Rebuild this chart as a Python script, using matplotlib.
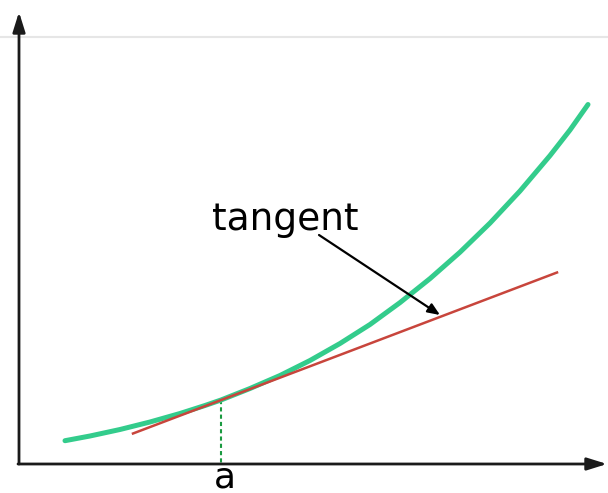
import matplotlib
matplotlib.use("Agg")
import matplotlib.pyplot as plt

# Canvas coordinates (pixels, y downward)
curve_x = [65, 90, 120, 150, 180, 205, 221, 250, 280, 310, 340, 370, 400, 430, 460, 490, 520, 550, 570, 588]
curve_y = [440.7, 436, 429.5, 422, 413.5, 405.5, 400, 388.5, 375.5, 360.5, 343.5, 324.5, 302.6, 278.6, 252.2, 223.1, 191, 155.6, 130, 104.5]

tangent_x = [133, 557]
tangent_y = [433.5, 272.5]

point_a_x = 221
point_a_y = 400
axis_origin = (19, 464)
x_axis_end = 607
y_axis_end = 12
grid_y = 37

label_text = "tangent"
label_pos = (285, 230)
label_arrow_start = (319, 235)
label_arrow_end = (440, 315)
tick_label = "a"

fig = plt.figure(figsize=(6.08, 4.93), dpi=100)
ax = fig.add_axes([0, 0, 1, 1])
ax.set_xlim(0, 608)
ax.set_ylim(493, 0)
ax.axis("off")

# faint top line
ax.plot([0, 608], [grid_y, grid_y], color="#e6e6e6", lw=1.5, zorder=1)

# axes with arrows
axis_style = dict(arrowstyle="-|>,head_length=0.8,head_width=0.25", mutation_scale=15,
                  lw=2, color="#1a1a1a", shrinkA=0, shrinkB=0)
ax.annotate("", xy=(axis_origin[0], y_axis_end), xytext=(axis_origin[0], axis_origin[1]),
            arrowprops=axis_style, zorder=3)
ax.annotate("", xy=(x_axis_end, axis_origin[1]), xytext=(axis_origin[0] - 1, axis_origin[1]),
            arrowprops=axis_style, zorder=3)

# dashed line at a
ax.plot([point_a_x, point_a_x], [point_a_y, axis_origin[1]], color="#1a9a40", lw=1.5,
        linestyle=(0, (2, 1.5)), zorder=2)

# curve and tangent
ax.plot(curve_x, curve_y, color="#33cc8c", lw=3.6, solid_capstyle="round", zorder=4)
ax.plot(tangent_x, tangent_y, color="#c8453c", lw=1.8, zorder=5)

# label and arrow
ax.text(label_pos[0], label_pos[1], label_text, fontsize=27, ha="center", va="baseline",
        color="black", family="DejaVu Sans", zorder=6)
ax.annotate("", xy=label_arrow_end, xytext=label_arrow_start,
            arrowprops=dict(arrowstyle="-|>,head_length=0.6,head_width=0.25", mutation_scale=12,
                            lw=1.6, color="black", shrinkA=0, shrinkB=0), zorder=6)

ax.text(point_a_x + 4, 487, tick_label, fontsize=26, ha="center", va="baseline",
        color="black", family="DejaVu Sans")

fig.savefig("out.png", dpi=100)
